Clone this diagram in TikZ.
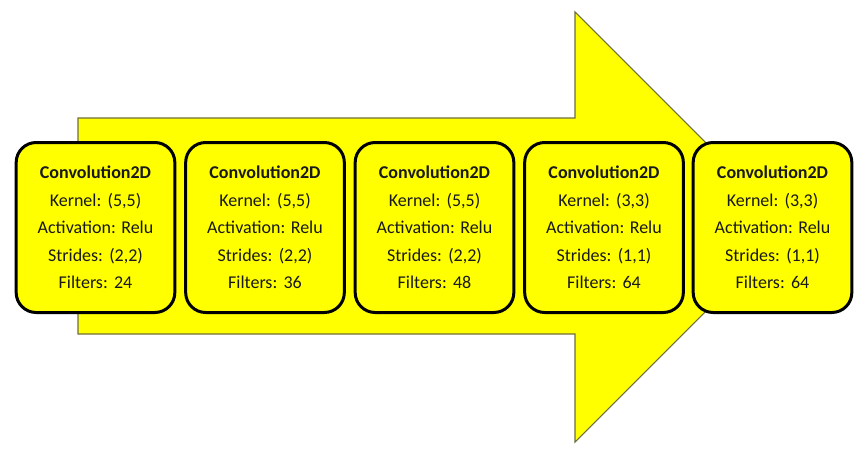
\documentclass[tikz,border=0pt]{standalone}
\usepackage{fontspec}
\setmainfont{Carlito}
\definecolor{ylw}{HTML}{FFFF00}
\definecolor{arrowline}{HTML}{6E6E3C}
\newcommand{\gp}{\ \hspace{0.12em}}
\begin{document}
\begin{tikzpicture}[x=0.75pt,y=-0.75pt,
  convbox/.style={draw=black, line width=2.25pt, fill=ylw, rounded corners=15pt,
    minimum width=119pt, minimum height=127.5pt, inner sep=0pt,
    align=center, font=\fontsize{13.5}{20.6}\selectfont, text=black!90},
  bigarrow/.style={fill=ylw, draw=arrowline, line width=0.8pt}]
\useasboundingbox (0,0) rectangle (862,457);
\draw[bigarrow] (78,118) -- (575,118) -- (575,12) -- (790,227) -- (575,442) -- (575,334) -- (78,334) -- cycle;
\node[convbox] (c1) at (95.5,227.5) {\textbf{Convolution2D}\\Kernel:\gp(5,5)\\Activation: Relu\\Strides:\gp(2,2)\\Filters:\gp24};
\node[convbox] (c2) at (265,227.5) {\textbf{Convolution2D}\\Kernel:\gp(5,5)\\Activation: Relu\\Strides:\gp(2,2)\\Filters:\gp36};
\node[convbox] (c3) at (434.5,227.5) {\textbf{Convolution2D}\\Kernel:\gp(5,5)\\Activation: Relu\\Strides:\gp(2,2)\\Filters:\gp48};
\node[convbox] (c4) at (604,227.5) {\textbf{Convolution2D}\\Kernel:\gp(3,3)\\Activation: Relu\\Strides:\gp(1,1)\\Filters:\gp64};
\node[convbox] (c5) at (772.5,227.5) {\textbf{Convolution2D}\\Kernel:\gp(3,3)\\Activation: Relu\\Strides:\gp(1,1)\\Filters:\gp64};
\end{tikzpicture}
\end{document}
